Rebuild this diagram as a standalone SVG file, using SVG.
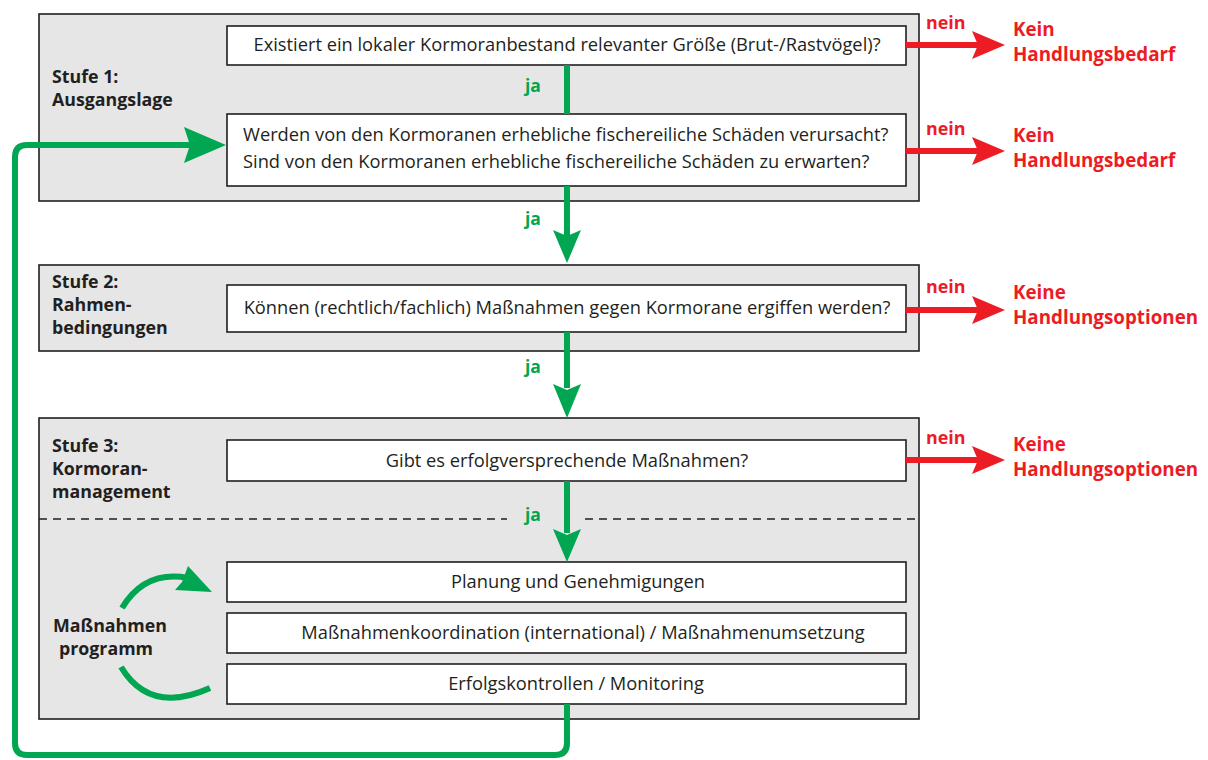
<svg xmlns="http://www.w3.org/2000/svg" width="1208" height="760" viewBox="0 0 1208 760">
<style>
.stage{fill:#e6e6e6;stroke:#231f20;stroke-width:1.6}
.box{fill:#ffffff;stroke:#231f20;stroke-width:1.6}
.t{font-family:"Open Sans","Noto Sans",sans-serif;font-size:18.3px;fill:#231f20}
.b{font-family:"Open Sans","Noto Sans",sans-serif;font-size:17.8px;font-weight:bold;fill:#231f20}
.ja{font-family:"Open Sans","Noto Sans",sans-serif;font-size:17.5px;font-weight:bold;fill:#00a651}
.red{font-family:"Open Sans","Noto Sans",sans-serif;font-size:18.8px;font-weight:bold;fill:#ed1c24}
.nein{font-family:"Open Sans","Noto Sans",sans-serif;font-size:17.9px;font-weight:bold;fill:#ed1c24}
.gl{fill:none;stroke:#00a651;stroke-width:6}
.rl{fill:none;stroke:#ed1c24;stroke-width:6}
.gh{fill:#00a651}
.rh{fill:#ed1c24}
</style>
<g id="stage1">
<rect class="stage" x="39" y="14" width="880" height="187"/>
<text class="b" x="52" y="83">Stufe 1:</text>
<text class="b" x="52" y="106">Ausgangslage</text>
</g>
<g id="stage2">
<rect class="stage" x="39" y="265" width="880" height="86"/>
<text class="b" x="52" y="288">Stufe 2:</text>
<text class="b" x="52" y="311">Rahmen-</text>
<text class="b" x="52" y="334">bedingungen</text>
</g>
<g id="stage3">
<rect class="stage" x="39" y="418" width="880" height="301"/>
<text class="b" x="52" y="452">Stufe 3:</text>
<text class="b" x="52" y="475">Kormoran-</text>
<text class="b" x="52" y="498">management</text>
<line x1="39" y1="519" x2="507" y2="519" stroke="#231f20" stroke-width="1.3" stroke-dasharray="8,6"/>
<line x1="585" y1="519" x2="919" y2="519" stroke="#231f20" stroke-width="1.3" stroke-dasharray="8,6"/>
</g>
<g id="q1">
<rect class="box" x="227" y="26" width="679" height="39"/>
<text class="t" x="567" y="51" text-anchor="middle">Existiert ein lokaler Kormoranbestand relevanter Größe (Brut-/Rastvögel)?</text>
</g>
<g id="q2">
<rect class="box" x="227" y="114" width="679" height="72"/>
<text class="t" x="243" y="141">Werden von den Kormoranen erhebliche fischereiliche Schäden verursacht?</text>
<text class="t" x="243" y="168">Sind von den Kormoranen erhebliche fischereiliche Schäden zu erwarten?</text>
</g>
<g id="q3">
<rect class="box" x="227" y="285" width="679" height="47"/>
<text class="t" x="567" y="314" text-anchor="middle">Können (rechtlich/fachlich) Maßnahmen gegen Kormorane ergiffen werden?</text>
</g>
<g id="q4">
<rect class="box" x="227" y="440" width="679" height="41"/>
<text class="t" x="567" y="467" text-anchor="middle">Gibt es erfolgversprechende Maßnahmen?</text>
</g>
<g id="m1">
<rect class="box" x="227" y="562" width="679" height="40"/>
<text class="t" x="578" y="588" text-anchor="middle">Planung und Genehmigungen</text>
</g>
<g id="m2">
<rect class="box" x="227" y="613" width="679" height="40"/>
<text class="t" x="583" y="639" text-anchor="middle">Maßnahmenkoordination (international) / Maßnahmenumsetzung</text>
</g>
<g id="m3">
<rect class="box" x="227" y="664" width="679" height="40"/>
<text class="t" x="576" y="690" text-anchor="middle">Erfolgskontrollen / Monitoring</text>
</g>
<g id="program">
<text class="b" x="110" y="632" text-anchor="middle">Maßnahmen</text>
<text class="b" x="106" y="655" text-anchor="middle">programm</text>
<path class="gl" d="M 122 608 Q 145 570 188 578" stroke-width="7"/>
<polygon class="gh" points="188,566 212,592 175,590 182,582"/>
<path class="gl" d="M 121 667 Q 150 715 210 688" stroke-width="7"/>
</g>
<g id="outcomes">
<text class="red" x="1013" y="36">Kein</text>
<text class="red" x="1013" y="61">Handlungsbedarf</text>
<text class="red" x="1013" y="142">Kein</text>
<text class="red" x="1013" y="167">Handlungsbedarf</text>
<text class="red" x="1013" y="299">Keine</text>
<text class="red" x="1013" y="324">Handlungsoptionen</text>
<text class="red" x="1013" y="451">Keine</text>
<text class="red" x="1013" y="476">Handlungsoptionen</text>
</g>
<g id="connectors">
<line class="gl" x1="567" y1="65" x2="567" y2="114"/>
<line class="gl" x1="567" y1="186" x2="567" y2="236"/>
<polygon class="gh" points="567,263 553,230 567,236 581,230"/>
<line class="gl" x1="567" y1="332" x2="567" y2="388"/>
<polygon class="gh" points="567,418 553,384 567,390 581,384"/>
<line class="gl" x1="567" y1="481" x2="567" y2="533"/>
<polygon class="gh" points="567,562 553,529 567,535 581,529"/>
<path class="gl" d="M 567 704 L 567 743 Q 567 755 555 755 L 27 755 Q 15 755 15 743 L 15 157 Q 15 145 27 145 L 192 145"/>
<polygon class="gh" points="226,145 184,127 190,145 184,163"/>
<text class="ja" x="525" y="92">ja</text>
<text class="ja" x="525" y="225">ja</text>
<text class="ja" x="525" y="373">ja</text>
<text class="ja" x="525" y="521">ja</text>
<line class="rl" x1="906" y1="45" x2="978" y2="45"/>
<polygon class="rh" points="1005,45 972,31 978,45 972,59"/>
<line class="rl" x1="906" y1="151" x2="978" y2="151"/>
<polygon class="rh" points="1005,151 972,137 978,151 972,165"/>
<line class="rl" x1="906" y1="310" x2="978" y2="310"/>
<polygon class="rh" points="1005,310 972,296 978,310 972,324"/>
<line class="rl" x1="906" y1="460" x2="978" y2="460"/>
<polygon class="rh" points="1005,460 972,446 978,460 972,474"/>
<text class="nein" x="926" y="29">nein</text>
<text class="nein" x="926" y="135">nein</text>
<text class="nein" x="926" y="293">nein</text>
<text class="nein" x="926" y="444">nein</text>
</g>
</svg>
